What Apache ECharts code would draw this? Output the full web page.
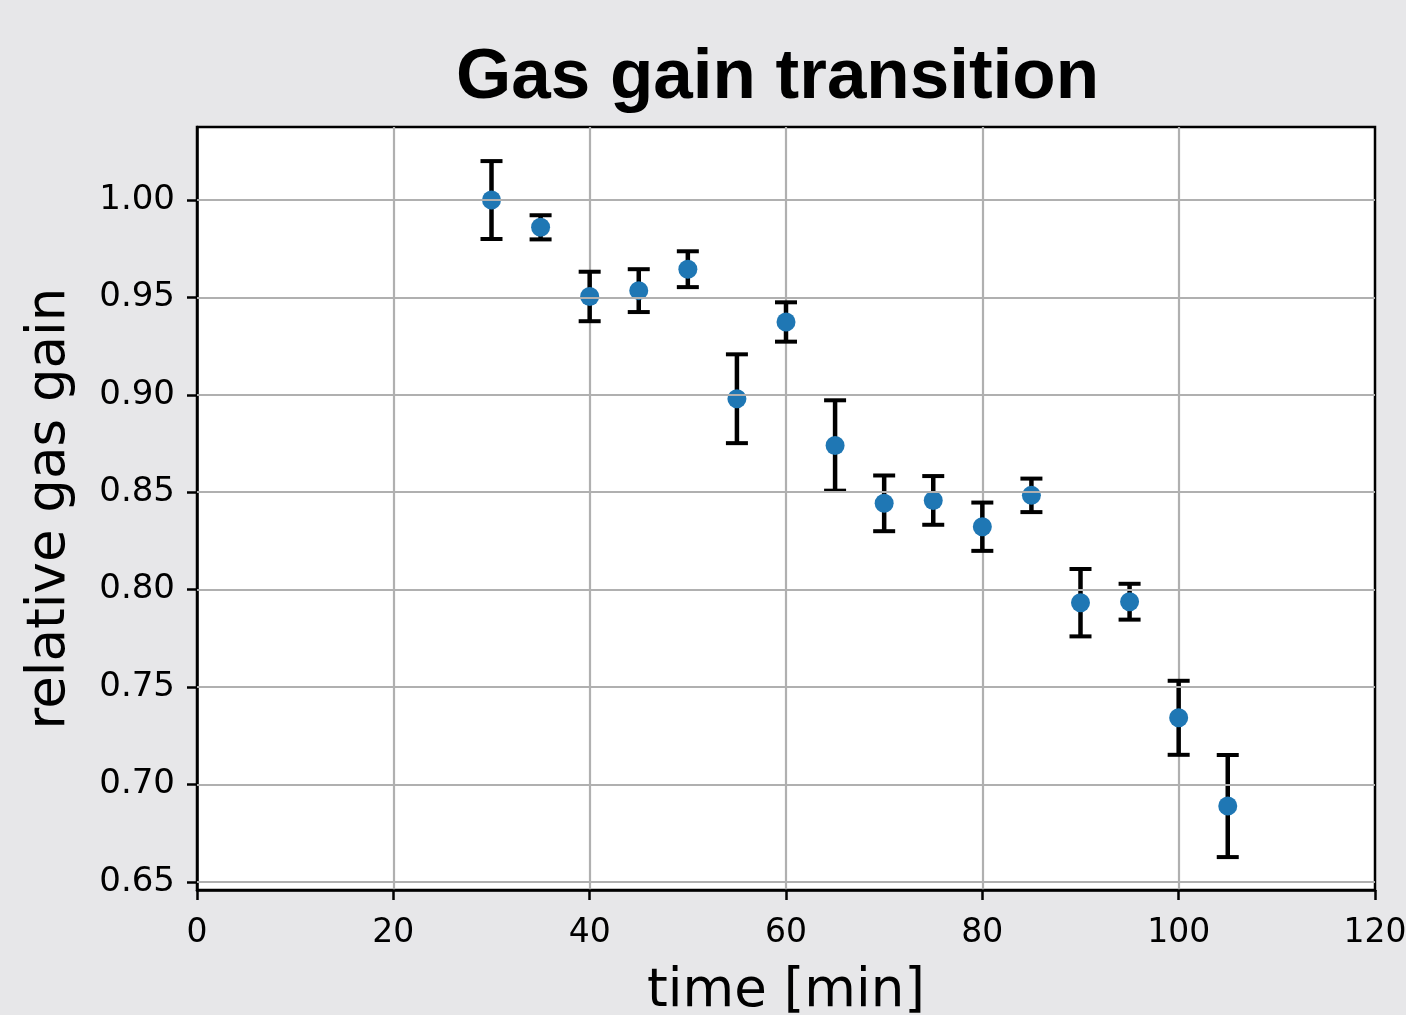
<!DOCTYPE html>
<html><head><meta charset="utf-8">
<script src="https://cdn.jsdelivr.net/npm/echarts@6/dist/echarts.min.js"></script>
<style>html,body{margin:0;padding:0;background:#e7e7e9}#c{width:1406px;height:1015px}</style>
</head><body><div id="c"></div>
<script>
const times = [30, 35, 40, 45, 50, 55, 60, 65, 70, 75, 80, 85, 90, 95, 100, 105];
const gain = [1.000, 0.986, 0.9505, 0.9535, 0.9645, 0.898, 0.9374, 0.874, 0.8443, 0.8458, 0.8323, 0.8484, 0.7933, 0.7938, 0.7342, 0.6889];
const errors = [0.020, 0.0062, 0.0127, 0.011, 0.0092, 0.0228, 0.0101, 0.0232, 0.0143, 0.0125, 0.0124, 0.0086, 0.0173, 0.0092, 0.019, 0.0262];
const yTicks = [0.65, 0.70, 0.75, 0.80, 0.85, 0.90, 0.95, 1.00];

const chart = echarts.init(document.getElementById('c'), null, {renderer: 'canvas'});

const errData = times.map((t, i) => [t, gain[i] - errors[i], gain[i] + errors[i]]);
const ptData = times.map((t, i) => [t, gain[i]]);

chart.setOption({
  backgroundColor: '#e7e7e9',
  animation: false,
  title: {
    text: 'Gas gain transition',
    left: 451, top: 38,
    textStyle: {fontFamily: 'Liberation Sans', fontWeight: 'bold', fontSize: 71, color: '#000'}
  },
  grid: {
    left: 197, right: 31, top: 127, bottom: 125,
    outerBoundsMode: 'none', containLabel: false,
    show: true, backgroundColor: '#fff', borderColor: '#000', borderWidth: 2.5
  },
  xAxis: {
    type: 'value', min: 0, max: 120, interval: 20,
    name: 'time [min]', nameLocation: 'middle', nameGap: 76,
    nameTextStyle: {fontFamily: 'DejaVu Sans', fontSize: 53, color: '#000'},
    axisLine: {show: true, onZero: false, lineStyle: {color: '#000', width: 2.5}},
    axisTick: {show: true, length: 10, lineStyle: {color: '#000', width: 2.5}},
    axisLabel: {margin: 27, fontFamily: 'DejaVu Sans', fontSize: 33, color: '#000'},
    splitLine: {show: true, showMinLine: false, showMaxLine: false, lineStyle: {color: '#b0b0b0', width: 2.2}}
  },
  yAxis: {
    type: 'value', min: 0.6458, max: 1.0375,
    name: 'relative gas gain', nameLocation: 'middle', nameRotate: 90, nameGap: 120,
    nameTextStyle: {fontFamily: 'DejaVu Sans', fontSize: 53, color: '#000'},
    axisLine: {show: true, onZero: false, lineStyle: {color: '#000', width: 2.5}},
    axisTick: {show: true, length: 10, customValues: yTicks, lineStyle: {color: '#000', width: 2.5}},
    axisLabel: {margin: 22, customValues: yTicks, formatter: v => v.toFixed(2), fontFamily: 'DejaVu Sans', fontSize: 34, color: '#000'},
    splitLine: {show: false}
  },
  series: [
    {
      type: 'scatter', data: [], z: 1, silent: true,
      markLine: {
        silent: true, symbol: ['none', 'none'], label: {show: false},
        lineStyle: {color: '#b0b0b0', width: 2.2, type: 'solid'},
        data: yTicks.map(v => ({yAxis: v}))
      }
    },
    {
      type: 'custom', z: 3, silent: true,
      data: errData,
      encode: {x: 0, y: [1, 2]},
      renderItem: function (params, api) {
        const x = api.value(0);
        const lo = api.coord([x, api.value(1)]);
        const hi = api.coord([x, api.value(2)]);
        const w = 11;
        const st = {stroke: '#000', lineWidth: 4.5};
        return {type: 'group', children: [
          {type: 'line', shape: {x1: hi[0], y1: hi[1], x2: lo[0], y2: lo[1]}, style: st},
          {type: 'line', shape: {x1: hi[0] - w, y1: hi[1], x2: hi[0] + w, y2: hi[1]}, style: {stroke: '#000', lineWidth: 4}},
          {type: 'line', shape: {x1: lo[0] - w, y1: lo[1], x2: lo[0] + w, y2: lo[1]}, style: {stroke: '#000', lineWidth: 4}}
        ]};
      }
    },
    {
      type: 'scatter', z: 4, silent: true,
      data: ptData, symbol: 'circle', symbolSize: 19,
      itemStyle: {color: '#1f77b4', opacity: 1}
    }
  ]
});
</script>
</body></html>
